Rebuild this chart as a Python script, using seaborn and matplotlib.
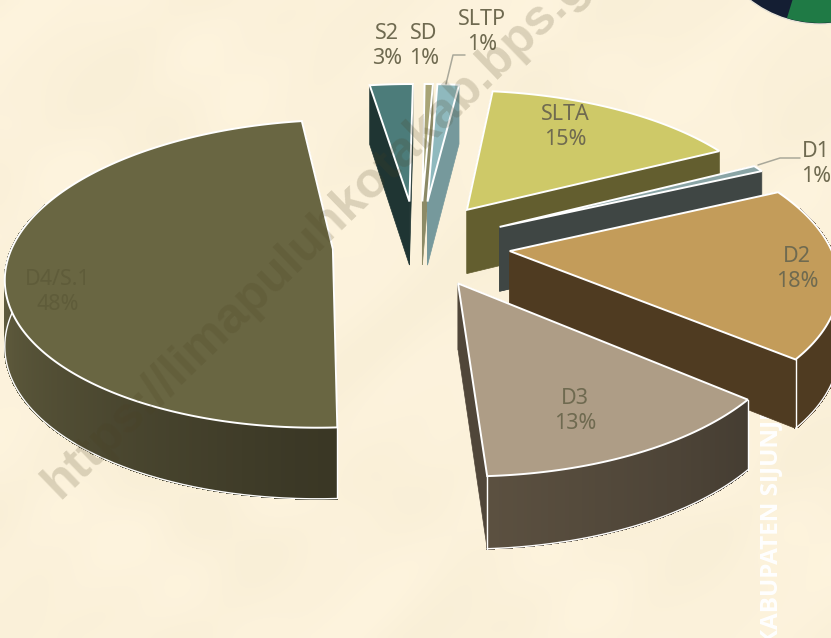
import numpy as np
import seaborn as sns
from matplotlib import pyplot as plt
from matplotlib.patches import Circle, Wedge

categories = ["S2", "SD", "SLTP", "SLTA", "D1", "D2", "D3", "D4/S.1"]
shares = [2.6, 0.5, 1.3, 15.5, 0.7, 18.0, 13.0, 48.4]
shown_pct = [3, 1, 1, 15, 1, 18, 13, 48]

top_colors = ["#4c7c7a", "#a8a476", "#8fb9be", "#cec968", "#8aa5a6", "#c39c5a", "#ae9d86", "#696642"]
wall_light = ["#1f3533", "#8c8a66", "#76999c", "#635e2f", "#3f4644", "#4f3b21", "#5b5040", "#5f5b3d"]
wall_dark = ["#1f3533", "#8c8a66", "#76999c", "#635e2f", "#3f4644", "#4f3b21", "#453d32", "#3a3725"]
explode = [0.30, 0.30, 0.30, 0.30, 0.30, 0.30, 0.27, 0.26]
nudge_x = [2, 6, 6, 0, 1, 0, 4, 2]
nudge_y = [-4, -4, -4, -3, -2, -3, -2, -3]

BG = "#fcf2db"
TEXT = "#6f6a50"
CX, CY, RX, RY, PERSP = 414, 248, 320, 148.7, 0.16
START_ANGLE = 261.2

sns.set_theme(style="white", rc={"figure.facecolor": BG, "axes.facecolor": BG})
plt.rcParams["font.family"] = ["Noto Sans", "DejaVu Sans"]


def project(x, v):
    s = 1 / (1 - PERSP * v)
    return CX + RX * x * s, CY + RY * v * s, 65 * np.sqrt(s)


def draw_slice(ax, a0, a1, ex, dx, dy, top, light, dark):
    mid = np.radians((a0 + a1) / 2)
    ox, ov = ex * np.cos(mid), ex * np.sin(mid)
    t = np.radians(np.linspace(a0, a1, max(int(a1 - a0) * 2, 4)))
    px, py, ph = project(ox + np.cos(t), ov + np.sin(t))
    cx, cy, ch = project(ox, ov)
    px, cx = px + dx, cx + dx
    py, cy = py + dy, cy + dy

    # cut faces first, the rim goes over them
    face = sns.blend_palette([light, dark], n_colors=3)[1]
    for i in (0, -1):
        ax.fill([cx, px[i], px[i], cx], [cy, py[i], py[i] + ph[i], cy + ch], color=face, lw=0.5, zorder=3)
    order = np.argsort(px[:-1])
    shades = sns.blend_palette([light, dark], n_colors=len(order))
    rank = np.empty(len(order), dtype=int)
    rank[order] = np.arange(len(order))
    for i in range(len(px) - 1):
        # the rim at the back sits under the top face anyway
        if np.sin(t[i]) < -0.3:
            continue
        ax.fill([px[i], px[i + 1], px[i + 1], px[i]],
                [py[i], py[i + 1], py[i + 1] + ph[i + 1], py[i] + ph[i]],
                color=shades[rank[i]], lw=0.8, antialiased=False, zorder=3)
    # white edges only where they face the viewer
    front = np.sin(t) > -0.15
    ax.plot(np.where(front, px, np.nan), py + ph, color="white", lw=1.0, zorder=3)
    for i in (0, -1):
        if np.sin(t[i]) > 0:
            ax.plot([px[i], px[i]], [py[i], py[i] + ph[i]], color="white", lw=1.0, zorder=3)
    ax.fill(np.r_[cx, px], np.r_[cy, py], fc=top, ec="white", lw=1.4, zorder=3)


fig, ax = plt.subplots(figsize=(8.31, 6.38), dpi=100)
fig.subplots_adjust(0, 0, 1, 1)

# faint paper mottling of the slide background
gx, gy = np.meshgrid(np.linspace(0, 831, 210), np.linspace(0, 638, 160))
paper = (np.sin(gx / 37 + np.sin(gy / 53) * 2) + np.sin(gy / 29 + np.sin(gx / 61) * 2)
         + np.sin((gx + gy) / 17) * 0.5)
ax.imshow(paper, extent=(0, 831, 638, 0), aspect="auto", interpolation="bicubic", zorder=0,
          cmap=sns.blend_palette(["#f9efd7", "#fef4de"], as_cmap=True))
ax.set_xlim(0, 831)
ax.set_ylim(638, 0)
ax.axis("off")

# corner of the slide's logo and the vertical banner behind the pie
ax.add_patch(Circle((820, -90), 114, fc="#141e33", ec="#e8e4d8", lw=1, zorder=1))
ax.add_patch(Wedge((820, -90), 113, 55, 107, fc="#1f7a45", lw=0, zorder=1))
ax.text(771, 645, "KABUPATEN SIJUNJUNG", rotation=90, ha="center", va="bottom", color="white",
        family="Open Sans", fontweight="bold", fontsize=17.5, zorder=1, clip_on=True)

angle = START_ANGLE
bounds = []
for share in shares:
    bounds.append((angle, angle + share * 3.6))
    angle += share * 3.6
for i in range(len(categories)):
    draw_slice(ax, *bounds[i], explode[i], nudge_x[i], nudge_y[i], top_colors[i], wall_light[i], wall_dark[i])

label_xy = [(387, 46), (424, 46), (482, 32), (565, 127), (816, 164), (797, 269), (575, 411), (58, 292)]
for i, name in enumerate(categories):
    color = "#5f5c3a" if name == "D4/S.1" else TEXT
    ax.text(*label_xy[i], f"{name}\n{shown_pct[i]}%", ha="center", va="center", color=color,
            fontsize=15.5, linespacing=1.2, zorder=4)

ax.plot([465, 453, 446], [55, 55, 84], color="#a9a89a", lw=1.1, zorder=4)
ax.plot([800, 780, 758], [158, 158, 165], color="#a9a89a", lw=1.1, zorder=4)

ax.text(348, 203, "https://limapuluhkotakab.bps.go.id", rotation=44, rotation_mode="anchor",
        ha="center", va="center", family="Liberation Sans", fontweight="bold", fontsize=36,
        color="#4a4020", alpha=0.19, zorder=5, clip_on=True)

sns.despine(ax=ax, left=True, bottom=True)
fig.savefig("out.png", dpi=100, facecolor=BG)
